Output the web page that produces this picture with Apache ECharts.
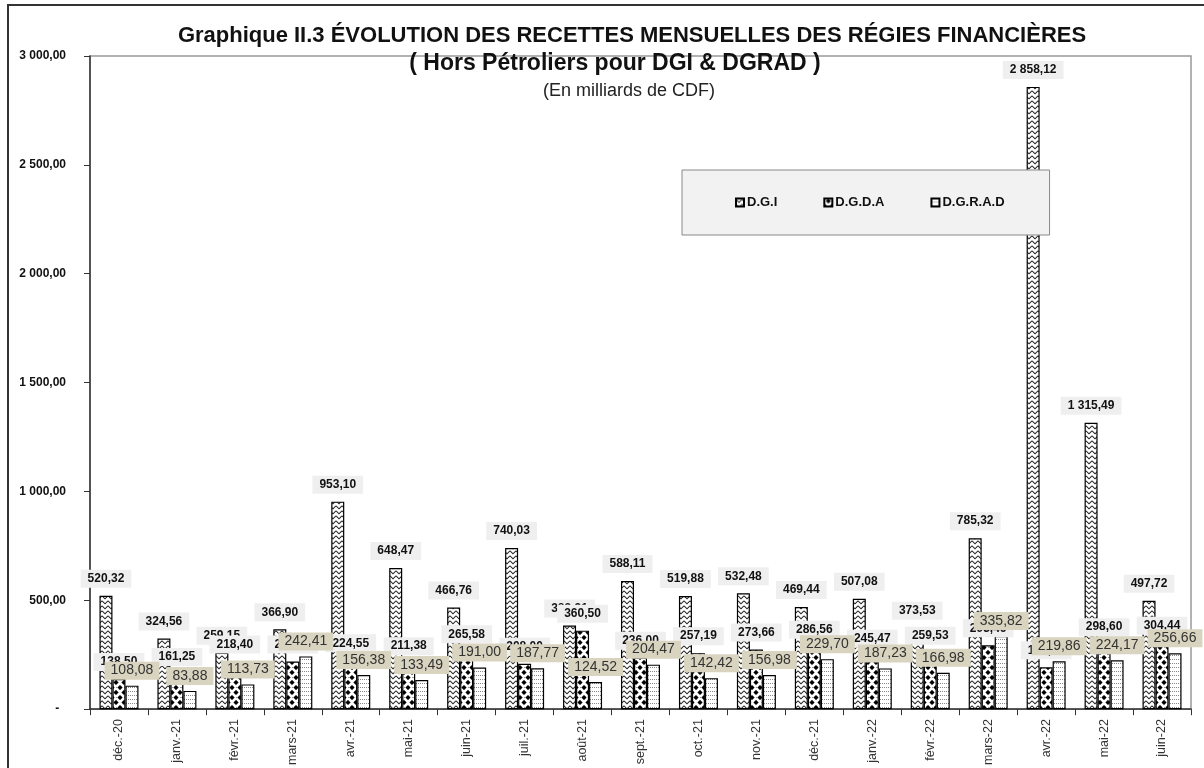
<!DOCTYPE html>
<html>
<head>
<meta charset="utf-8">
<script src="https://cdn.jsdelivr.net/npm/echarts@6/dist/echarts.min.js"></script>
<style>
  html, body { margin: 0; padding: 0; background: #fff; }
  #chart { width: 1204px; height: 768px; }
</style>
</head>
<body>
<div id="chart"></div>
<script>
// mois
var months = ['déc.-20', 'janv.-21', 'févr.-21', 'mars-21', 'avr.-21', 'mai-21', 'juin-21', 'juil.-21',
  'août-21', 'sept.-21', 'oct.-21', 'nov.-21', 'déc.-21', 'janv.-22', 'févr.-22', 'mars-22',
  'avr.-22', 'mai-22', 'juin-22'];
// recettes en milliards de CDF
var dgi = [520.32, 324.56, 259.15, 366.90, 953.10, 648.47, 466.76, 740.03, 383.91, 588.11,
  519.88, 532.48, 469.44, 507.08, 373.53, 785.32, 2858.12, 1315.49, 497.72];
var dgda = [138.50, 161.25, 218.40, 218.72, 224.55, 211.38, 265.58, 208.00, 360.50, 236.00,
  257.19, 273.66, 286.56, 245.47, 259.53, 293.46, 192.06, 298.60, 304.44];
var dgrad = [108.08, 83.88, 113.73, 242.41, 156.38, 133.49, 191.00, 187.77, 124.52, 204.47,
  142.42, 156.98, 229.70, 187.23, 166.98, 335.82, 219.86, 224.17, 256.66];
var yTicks = [0, 500, 1000, 1500, 2000, 2500, 3000];

function fr(v) {
  var s = v.toFixed(2).split('.');
  return s[0].replace(/\B(?=(\d{3})+(?!\d))/g, ' ') + ',' + s[1];
}

// motifs des barres
function makePattern(w, h, draw) {
  var c = document.createElement('canvas');
  c.width = w; c.height = h;
  var ctx = c.getContext('2d');
  ctx.fillStyle = '#fff';
  ctx.fillRect(0, 0, w, h);
  draw(ctx);
  return { image: c, repeat: 'repeat' };
}
var zigzag = makePattern(6, 5, function (ctx) {
  ctx.strokeStyle = '#222';
  ctx.lineWidth = 1.1;
  ctx.beginPath();
  ctx.moveTo(0, 0.8); ctx.lineTo(3, 3.8); ctx.lineTo(6, 0.8);
  ctx.stroke();
});
var diamonds = makePattern(8, 10, function (ctx) {
  ctx.fillStyle = '#000';
  function d(x, y) {
    ctx.beginPath();
    ctx.moveTo(x, y - 2.6); ctx.lineTo(x + 2.6, y); ctx.lineTo(x, y + 2.6); ctx.lineTo(x - 2.6, y);
    ctx.closePath(); ctx.fill();
  }
  d(4, 2.5); d(0, 7.5); d(8, 7.5);
  ctx.fillStyle = '#999';
  ctx.fillRect(4, 7, 1, 1);
});
var dots = makePattern(4, 4, function (ctx) {
  ctx.fillStyle = '#888';
  ctx.fillRect(0, 3, 1, 1);
  ctx.fillRect(2, 3, 1, 1);
});

var greyLabel = {
  show: true,
  position: 'top',
  distance: 8,
  fontFamily: 'Liberation Sans',
  fontSize: 12,
  fontWeight: 'bold',
  color: '#111',
  backgroundColor: '#efefef',
  padding: [3, 7],
  formatter: function (p) { return fr(p.value); }
};

var myChart = echarts.init(document.getElementById('chart'));
var option = {
  animation: false,
  backgroundColor: '#fff',
  textStyle: { fontFamily: 'Liberation Sans' },
  title: [
    {
      text: 'Graphique II.3 ÉVOLUTION DES RECETTES MENSUELLES DES RÉGIES FINANCIÈRES',
      left: 627, top: 20, textAlign: 'center',
      textStyle: { fontSize: 22, fontWeight: 'bold', color: '#111' }
    },
    {
      text: '( Hors Pétroliers pour DGI & DGRAD )',
      left: 610, top: 47, textAlign: 'center',
      textStyle: { fontSize: 23, fontWeight: 'bold', color: '#111' }
    },
    {
      text: '(En milliards de CDF)',
      left: 624, top: 77, textAlign: 'center',
      textStyle: { fontSize: 18, fontWeight: 'normal', color: '#222' }
    }
  ],
  legend: {
    left: 682, top: 170,
    padding: [26, 45, 26, 53],
    backgroundColor: '#f2f2f2',
    borderColor: '#888',
    borderWidth: 1,
    itemGap: 46,
    itemWidth: 8, itemHeight: 8,
    icon: 'rect',
    textStyle: { fontSize: 13, fontWeight: 'bold', color: '#111', padding: [0, 0, 0, -2] },
    data: ['D.G.I', 'D.G.D.A', 'D.G.R.A.D']
  },
  grid: {
    left: 90, right: 13, top: 56, bottom: 58,
    show: true, borderColor: '#999', borderWidth: 1.5, containLabel: false
  },
  xAxis: {
    type: 'category',
    data: months,
    axisLine: { lineStyle: { color: '#333', width: 1.5 } },
    axisTick: { show: true, length: 6, lineStyle: { color: '#333' } },
    axisLabel: { rotate: 90, fontSize: 12.5, color: '#333', margin: 10, interval: 0 }
  },
  yAxis: {
    type: 'value',
    min: yTicks[0], max: yTicks[yTicks.length - 1], interval: 500,
    splitLine: { show: false },
    axisLine: { show: true, lineStyle: { color: '#333', width: 1.5 } },
    axisTick: { show: true, length: 6, lineStyle: { color: '#333' } },
    axisLabel: {
      fontSize: 12, fontWeight: 'bold', color: '#111', margin: 24,
      formatter: function (v) { return v === 0 ? '-  ' : fr(v); }
    }
  },
  series: [
    {
      name: 'D.G.I', type: 'bar', data: dgi, barWidth: 13, barGap: '0%',
      itemStyle: { color: zigzag, borderColor: '#000', borderWidth: 1.2 },
      label: greyLabel
    },
    {
      name: 'D.G.D.A', type: 'bar', data: dgda, barWidth: 13, barGap: '0%',
      itemStyle: { color: diamonds, borderColor: '#000', borderWidth: 1.2 },
      label: greyLabel
    },
    {
      name: 'D.G.R.A.D', type: 'bar', data: dgrad, barWidth: 13, barGap: '0%',
      itemStyle: { color: dots, borderColor: '#000', borderWidth: 1.2 },
      label: {
        show: true, position: 'top', distance: 6,
        fontFamily: 'Liberation Sans', fontSize: 14, color: '#333',
        backgroundColor: '#d9d4bf', padding: [2, 6],
        formatter: function (p) { return fr(p.value); }
      }
    }
  ],
  graphic: [
    {
      type: 'rect', silent: true, z: 100,
      shape: { x: 8, y: 5, width: 1220, height: 800 },
      style: { fill: null, stroke: '#333', lineWidth: 2 }
    }
  ]
};
myChart.setOption(option);
</script>
</body>
</html>
